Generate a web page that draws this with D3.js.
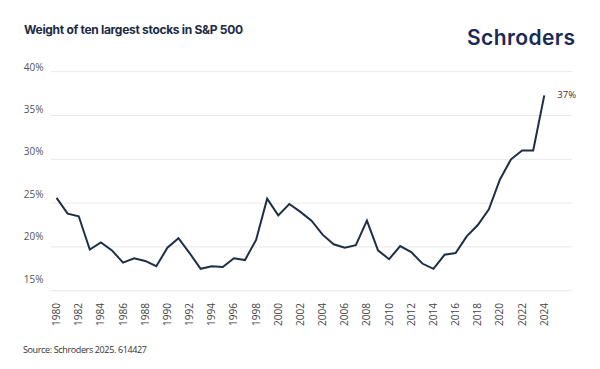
<!DOCTYPE html>
<html>
<head>
<meta charset="utf-8">
<script src="https://cdn.jsdelivr.net/npm/d3@7"></script>
<style>
  body { margin: 0; background: #fff; }
</style>
</head>
<body>
<div id="chart"></div>
<script>
// data
var years = d3.range(1980, 2025);
var weights = [25.6, 23.8, 23.5, 19.7, 20.5, 19.6, 18.2, 18.7, 18.4, 17.8,
               19.9, 21.0, 19.3, 17.5, 17.8, 17.7, 18.7, 18.5, 20.8, 25.5,
               23.6, 24.9, 24.0, 23.0, 21.4, 20.3, 19.9, 20.2, 23.0, 19.6,
               18.6, 20.1, 19.4, 18.1, 17.5, 19.1, 19.3, 21.2, 22.5, 24.3,
               27.7, 30.0, 31.0, 31.0, 37.3];
var yTicks = [15, 20, 25, 30, 35, 40];
var xTicks = d3.range(1980, 2025, 2);

var width = 600, height = 369;
var navy = '#1c2e4a';

var svg = d3.select('#chart').append('svg')
    .attr('width', width)
    .attr('height', height)
    .style('font-family', '"Open Sans", sans-serif');

var x = d3.scaleLinear()
    .domain([1979.5, 2026.5])
    .range([51, 572]);

var y = d3.scaleLinear()
    .domain([15, 40])
    .range([290.7, 71.7]);

// tick labels sit a little above their gridlines in the original
var yLab = d3.scaleLinear()
    .domain([15, 40])
    .range([282.5, 70.5]);

// title + logo
svg.append('text')
    .attr('x', 24)
    .attr('y', 33.5)
    .attr('fill', '#1b2a45')
    .style('font-family', 'Inter, sans-serif')
    .style('font-weight', 700)
    .style('font-size', '12px')
    .attr('textLength', 219)
    .text('Weight of ten largest stocks in S&P 500');

svg.append('text')
    .attr('x', 467)
    .attr('y', 44.5)
    .attr('fill', '#1a2a57')
    .style('font-family', 'Inter, sans-serif')
    .style('font-weight', 600)
    .style('font-size', '21px')
    .attr('textLength', 108)
    .text('Schroders');

// gridlines
svg.append('g')
    .selectAll('line')
    .data(yTicks)
    .join('line')
    .attr('x1', x.range()[0])
    .attr('x2', x.range()[1])
    .attr('y1', d => y(d))
    .attr('y2', d => y(d))
    .attr('stroke', '#e8e8e8')
    .attr('stroke-width', 1);

svg.append('g')
    .selectAll('text')
    .data(yTicks)
    .join('text')
    .attr('x', 43.5)
    .attr('y', d => yLab(d))
    .attr('text-anchor', 'end')
    .attr('fill', '#555')
    .style('font-size', '10px')
    .text(d => d + '%');

// x axis labels, rotated
svg.append('g')
    .selectAll('text')
    .data(xTicks)
    .join('text')
    .attr('transform', d => 'translate(' + (x(d) + 3.5) + ',303) rotate(-90)')
    .attr('text-anchor', 'end')
    .attr('fill', '#444')
    .style('font-size', '10px')
    .text(d => d);

// the line
var line = d3.line()
    .x((d, i) => x(years[i]))
    .y(d => y(d));

svg.append('path')
    .datum(weights)
    .attr('fill', 'none')
    .attr('stroke', navy)
    .attr('stroke-width', 2)
    .attr('stroke-linejoin', 'miter')
    .attr('d', line);

// end label
svg.append('text')
    .attr('x', x(2024) + 13)
    .attr('y', y(weights[weights.length - 1]) + 3)
    .attr('fill', '#333')
    .style('font-size', '9.5px')
    .text(Math.round(weights[weights.length - 1]) + '%');

svg.append('text')
    .attr('x', 23)
    .attr('y', 352.5)
    .attr('fill', '#333')
    .style('font-size', '9px')
    .attr('textLength', 124)
    .text('Source: Schroders 2025. 614427');
</script>
</body>
</html>
